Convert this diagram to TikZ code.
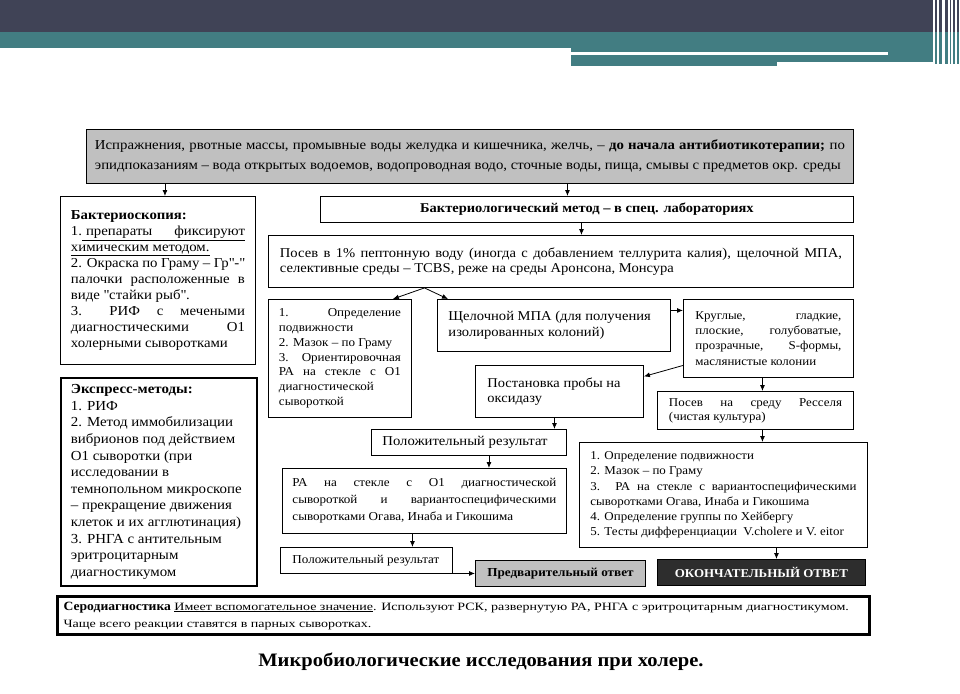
\documentclass[tikz,border=0pt]{standalone}
\usepackage{fontspec}
\setmainfont{Liberation Serif}[FakeStretch=1.08]
\newfontfamily\serowide{Liberation Serif}[FakeStretch=1.25]
\usetikzlibrary{arrows.meta}
\definecolor{hdrdark}{RGB}{64,67,86}
\definecolor{hdrteal}{RGB}{66,125,130}
\definecolor{boxgray}{RGB}{192,192,192}
\definecolor{boxdark}{RGB}{45,45,45}
\newcommand{\fsz}[2]{\fontsize{#1}{#2}\selectfont}
\newcommand{\jline}[2]{\makebox[#1pt][s]{#2}}
\newcommand{\lline}[2]{\makebox[#1pt][l]{#2}}
\newcommand{\qq}{\textquotedbl}
\begin{document}
\begin{tikzpicture}[x=1pt,y=-1pt,
  box/.style={draw=black, line width=0.9pt, inner sep=0pt, anchor=north west, align=left},
  arr/.style={-{Latex[length=6pt,width=5pt]}, line width=0.8pt},
]
\useasboundingbox[fill=white] (0,0) rectangle (960,693);
% header bands
\fill[hdrdark] (0,0) rectangle (933,32);
\fill[hdrteal] (0,32) rectangle (933,48);
\fill[hdrteal] (571,48) rectangle (933,62);
\fill[white] (571,52) rectangle (888,55);
\fill[hdrteal] (571,62) rectangle (777,66);
\foreach \xa/\xb in {934.5/936.5, 938.5/942, 944.5/947.5, 949.5/951, 953/955, 957/958.5}{
  \fill[hdrdark] (\xa,0) rectangle (\xb,32);
  \fill[hdrteal] (\xa,32) rectangle (\xb,64);
}

% top box
\node[box, fill=boxgray, minimum width=767pt, minimum height=54pt, font={\fsz{13.7}{20}}] (top) at (86,129)
 {\jline{750}{Испражнения, рвотные массы, промывные воды желудка и кишечника, желчь, – \textbf{до начала антибиотикотерапии;} по}\\
  \lline{750}{эпидпоказаниям – вода открытых водоемов, водопроводная водо, сточные воды, пища, смывы с предметов окр. среды}};

% bacterioscopy
\node[box, minimum width=195pt, minimum height=168pt, font={\fsz{13.7}{16}}] (bsk) at (60,196)
 {\lline{174}{\textbf{Бактериоскопия:}}\\
  \lline{174}{1.\underline{\makebox[163pt][l]{\hspace{4pt}препараты\hfill фиксируют}}}\\
  \lline{174}{\underline{химическим методом.}}\\
  \jline{174}{2. Окраска по Граму – Гр\qq-\qq}\\
  \jline{174}{палочки расположенные в}\\
  \lline{174}{виде \qq стайки рыб\qq.}\\
  \jline{174}{3. \ РИФ \ с \ мечеными}\\
  \jline{174}{диагностическими О1}\\
  \lline{174}{холерными сыворотками}};

% express
\node[box, line width=1.8pt, minimum width=196pt, minimum height=208pt, font={\fsz{13.8}{16.6}}] (exp) at (60,377)
 {\lline{176}{\textbf{Экспресс-методы:}}\\
  \lline{176}{1. РИФ}\\
  \lline{176}{2. Метод иммобилизации}\\
  \lline{176}{вибрионов под действием}\\
  \lline{176}{О1 сыворотки (при}\\
  \lline{176}{исследовании в}\\
  \lline{176}{темнопольном микроскопе}\\
  \lline{176}{– прекращение движения}\\
  \lline{176}{клеток и их агглютинация)}\\
  \lline{176}{3. РНГА с антительным}\\
  \lline{176}{эритроцитарным}\\
  \lline{176}{диагностикумом}};

% bacteriological method
\node[box, minimum width=533pt, minimum height=26pt, font={\bfseries\fsz{13.4}{15}}] (meth) at (320,196)
 {Бактериологический метод – в спец. лабораториях};

% posev
\node[box, minimum width=585pt, minimum height=52pt, font={\fsz{13.5}{15.5}}] (posev) at (268,235)
 {\jline{562}{Посев в 1\% пептонную воду (иногда с добавлением теллурита калия), щелочной МПА,}\\
  \lline{562}{селективные среды – TCBS, реже на среды Аронсона, Монсура}};

% box A
\node[box, minimum width=143pt, minimum height=118pt, font={\fsz{12.1}{14.8}}] (boxa) at (268,299)
 {\jline{122}{1. Определение}\\
  \lline{122}{подвижности}\\
  \lline{122}{2. Мазок – по Граму}\\
  \jline{122}{3. Ориентировочная}\\
  \jline{122}{РА на стекле с О1}\\
  \lline{122}{диагностической}\\
  \lline{122}{сывороткой}};

% schelochnoy
\node[box, minimum width=233pt, minimum height=52pt, font={\fsz{13.5}{15.5}}] (sch) at (437,299)
 {\lline{211}{Щелочной МПА (для получения}\\
  \lline{211}{изолированных колоний)}};

% kruglye
\node[box, minimum width=170pt, minimum height=78pt, font={\fsz{12}{15.3}}] (krug) at (683,299)
 {\jline{146}{Круглые, гладкие,}\\
  \jline{146}{плоские, голубоватые,}\\
  \jline{146}{прозрачные, S-формы,}\\
  \lline{146}{маслянистые колонии}};

% postanovka
\node[box, minimum width=168pt, minimum height=52pt, font={\fsz{13.4}{15.5}}] (post) at (475,365)
 {\lline{144}{Постановка пробы на}\\
  \lline{144}{оксидазу}};

% ressel
\node[box, minimum width=196pt, minimum height=38pt, font={\fsz{12}{14}}] (res) at (657,391)
 {\jline{173}{Посев на среду Ресселя}\\
  \lline{173}{(чистая культура)}};

% positive 1
\node[box, minimum width=195pt, minimum height=26pt, font={\fsz{13.6}{15}}] (pos1) at (371,429)
 {\lline{173}{Положительный результат}};

% RA box
\node[box, minimum width=284pt, minimum height=65pt, font={\fsz{12.1}{17}}] (ra) at (282,468)
 {\jline{264}{РА на стекле с О1 диагностической}\\
  \jline{264}{сывороткой и вариантоспецифическими}\\
  \lline{264}{сыворотками Огава, Инаба и Гикошима}};

% big box
\node[box, minimum width=288pt, minimum height=105pt, font={\fsz{12}{15.2}}] (big) at (579,442)
 {\lline{266}{1. Определение подвижности}\\
  \lline{266}{2. Мазок – по Граму}\\
  \jline{266}{3. РА на стекле с вариантоспецифическими}\\
  \lline{266}{сыворотками Огава, Инаба и Гикошима}\\
  \lline{266}{4. Определение группы по Хейбергу}\\
  \lline{266}{5. Тесты дифференциации \ V.cholere и V. eitor}};

% positive 2
\node[box, minimum width=172pt, minimum height=26pt, font={\fsz{12.1}{14}}] (pos2) at (280,547)
 {\lline{148}{Положительный результат}};

% preliminary answer
\node[box, fill=boxgray, minimum width=170pt, minimum height=26pt, font={\bfseries\fsz{12.2}{14}}] (predv) at (475,560)
 {Предварительный ответ};

% final answer
\node[box, fill=boxdark, text=white, minimum width=208pt, minimum height=26pt, font={\bfseries\fsz{12}{15}}] (okon) at (657,559)
 {ОКОНЧАТЕЛЬНЫЙ ОТВЕТ};

% serodiagnostics
\node[box, line width=3.2pt, minimum width=812pt, minimum height=38pt, font={\serowide\fsz{11.2}{17}}] (sero) at (56,595)
 {\lline{800}{{\rmfamily\bfseries\fsz{12.6}{17}Серодиагностика} \underline{Имеет вспомогательное значение}. Используют РСК, развернутую РА, РНГА с эритроцитарным диагностикумом.}\\
  \lline{800}{Чаще всего реакции ставятся в парных сыворотках.}};

% caption
\node[font={\bfseries\fsz{19}{22}}] (caption) at (481,662) {Микробиологические исследования при холере.};

% connectors
\draw[arr] ([xshift=7pt]bsk.north |- top.south) -- ([xshift=7pt]bsk.north);
\draw[arr] ([xshift=-19.5pt]meth.north |- top.south) -- ([xshift=-19.5pt]meth.north);
\draw[arr] ([xshift=-5.5pt]meth.south) -- ([xshift=-5.5pt]meth.south |- posev.north);
\coordinate (split) at ([xshift=-136.5pt]posev.south);
\draw[arr] (split) -- ([xshift=-19pt]boxa.north east);
\draw[arr] (split) -- ([xshift=11pt]sch.north west);
\draw[arr] ([yshift=15pt]sch.east) -- ([yshift=15pt]sch.east -| krug.west);
\draw[arr] ([yshift=-27pt]krug.west) -- ([yshift=15pt]post.east);
\draw[arr] ([xshift=-6pt]krug.south) -- ([xshift=-6pt]krug.south |- res.north);
\draw[arr] ([xshift=-5pt]post.south) -- ([xshift=-5pt]post.south |- pos1.north);
\draw[arr] ([xshift=20pt]pos1.south) -- ([xshift=20pt]pos1.south |- ra.north);
\draw[arr] ([xshift=-12pt]ra.south) -- ([xshift=-12pt]ra.south |- pos2.north);
\draw[arr] (pos2.east |- predv.west) -- (predv.west);
\draw[arr] ([xshift=7pt]res.south) -- ([xshift=7pt]res.south |- big.north);
\draw[arr] ([xshift=53pt]big.south) -- ([xshift=53pt]big.south |- okon.north);
\end{tikzpicture}
\end{document}
